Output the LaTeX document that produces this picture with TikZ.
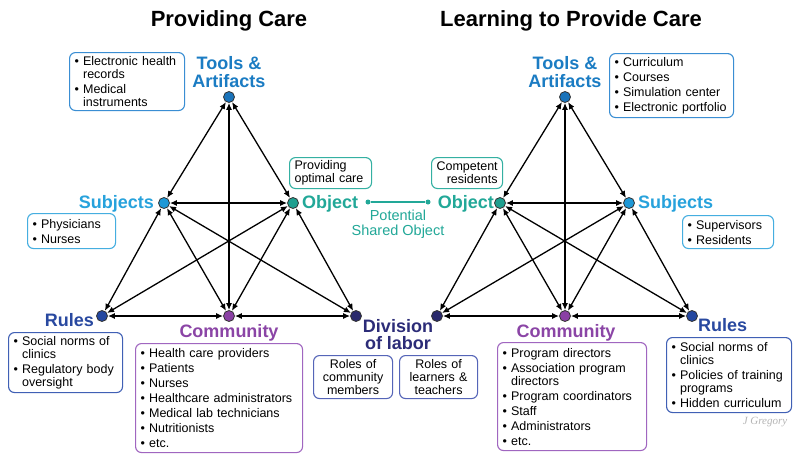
\documentclass[tikz,border=0pt]{standalone}
\usepackage{fontspec}
\setmainfont{Liberation Sans}
\newfontfamily\sigfont{Liberation Serif}
\usetikzlibrary{arrows.meta}
\definecolor{ctools}{HTML}{1B7CC3}
\definecolor{csubj}{HTML}{27A2DC}
\definecolor{cobj}{HTML}{22A898}
\definecolor{crules}{HTML}{2949A0}
\definecolor{ccomm}{HTML}{8B45A6}
\definecolor{cdiv}{HTML}{2C2C78}
\definecolor{dtools}{HTML}{1A73BA}
\definecolor{dsubj}{HTML}{1E98D6}
\definecolor{dobj}{HTML}{1E9F8F}
\definecolor{drules}{HTML}{2447A0}
\definecolor{dcomm}{HTML}{8A40A4}
\definecolor{ddiv}{HTML}{2A2A6C}
\definecolor{btools}{HTML}{3A8ED3}
\definecolor{bsubj}{HTML}{45AEE0}
\definecolor{bobj}{HTML}{34B0A2}
\definecolor{brules}{HTML}{4060B5}
\definecolor{bcomm}{HTML}{A066C0}
\definecolor{bdiv}{HTML}{5565B8}
\definecolor{sig}{HTML}{B5B5B5}
\newcommand{\itm}[1]{\mbox{•~#1}}
\newcommand{\cnt}[1]{\mbox{\hphantom{•~}#1}}
\begin{document}
\begin{tikzpicture}[x=1pt,y=-1pt,
  title/.style={font=\fontsize{22}{24}\selectfont\bfseries, inner sep=0pt},
  dot/.style={circle, draw=black!80, line width=0.8pt, inner sep=0pt, minimum size=11pt},
  lbl/.style={font=\fontsize{18}{18}\selectfont\bfseries, align=center, inner sep=0pt},
  box/.style={draw, rounded corners=6pt, line width=1.1pt, fill=white,
    font=\fontsize{12.5}{13}\selectfont, inner xsep=5pt, inner ysep=0pt,
    anchor=north west, align=left},
  rel/.style={{Latex[length=7pt,width=6pt]}-{Latex[length=7pt,width=6pt]}, line width=1.3pt, black},
]
\fill[white] (0,0) rectangle (800,463);
\useasboundingbox (0,0) rectangle (800,463);

% titles
\node[title, anchor=base] (t1) at (229,27) {Providing Care};
\node[title, anchor=base] (t2) at (571,27) {Learning to Provide Care};

% ---------- left diagram dots ----------
\node[dot, fill=dtools] (lT) at (229,97) {};
\node[dot, fill=dsubj]  (lS) at (164,203) {};
\node[dot, fill=dobj]   (lO) at (293,203) {};
\node[dot, fill=drules] (lR) at (102,316) {};
\node[dot, fill=dcomm]  (lC) at (229,316) {};
\node[dot, fill=ddiv]   (lD) at (356,316) {};

% ---------- right diagram dots ----------
\node[dot, fill=dtools] (rT) at (565,97) {};
\node[dot, fill=dobj]   (rO) at (500,203) {};
\node[dot, fill=dsubj]  (rS) at (629,203) {};
\node[dot, fill=ddiv]   (rD) at (437,316) {};
\node[dot, fill=dcomm]  (rC) at (565,316) {};
\node[dot, fill=drules] (rR) at (692,316) {};

% connectors
\foreach \a/\b in {lT/lS, lT/lO, lT/lC, lS/lO, lS/lR, lS/lC, lS/lD, lO/lR, lO/lC, lO/lD, lR/lC, lC/lD,
                   rT/rO, rT/rS, rT/rC, rO/rS, rO/rD, rO/rC, rO/rR, rS/rD, rS/rC, rS/rR, rD/rC, rC/rR}
  \draw[rel] (\a) -- (\b);

% ---------- left labels ----------
\node[lbl, text=ctools, anchor=south] (lTl) at (229,88) {Tools \&\\Artifacts};
\node[lbl, text=csubj, anchor=base east] (lSl) at (154,208) {Subjects};
\node[lbl, text=cobj, anchor=base west] (lOl) at (302,208) {Object};
\node[lbl, text=crules, anchor=base east] (lRl) at (94,326) {Rules};
\node[lbl, text=ccomm, anchor=base] (lCl) at (229,337) {Community};

% shared division of labor label
\node[lbl, text=cdiv, anchor=north, font=\fontsize{18}{17.5}\selectfont\bfseries] (dl) at (398,319) {Division\\of labor};

% ---------- right labels ----------
\node[lbl, text=ctools, anchor=south] (rTl) at (565,88) {Tools \&\\Artifacts};
\node[lbl, text=cobj, anchor=base east] (rOl) at (494,208) {Object};
\node[lbl, text=csubj, anchor=base west] (rSl) at (638,208) {Subjects};
\node[lbl, text=ccomm, anchor=base] (rCl) at (566,337) {Community};
\node[lbl, text=crules, anchor=base west] (rRl) at (698,331) {Rules};

% ---------- potential shared object ----------
\node[circle, fill=cobj, inner sep=0pt, minimum size=5pt] (pA) at (368,202) {};
\node[circle, fill=cobj, inner sep=0pt, minimum size=5pt] (pB) at (428,202) {};
\draw[cobj, line width=1.5pt] (pA) -- (pB);
\node[text=cobj, font=\fontsize{14.5}{15}\selectfont, align=center, inner sep=0pt, anchor=north] (pso) at (398,209.5) {Potential\\Shared Object};

% ---------- left boxes ----------
\node[box, draw=btools, text width=105pt, minimum height=58pt] (lTb) at (69,52)
  {\itm{Electronic health}\\ \cnt{records}\\[2pt] \itm{Medical}\\ \cnt{instruments}};
\node[box, draw=bsubj, text width=78pt, minimum height=35pt] (lSb) at (27,213)
  {\itm{Physicians}\\[2pt] \itm{Nurses}};
\node[box, draw=bobj, text width=72pt, minimum height=31pt] (lOb) at (289,157)
  {Providing\\ optimal care};
\node[box, draw=brules, text width=104pt, minimum height=60pt] (lRb) at (8,332)
  {\itm{Social norms of}\\ \cnt{clinics}\\[2pt] \itm{Regulatory body}\\ \cnt{oversight}};
\node[box, draw=bcomm, text width=157pt, minimum height=109pt] (lCb) at (135,343)
  {\itm{Health care providers}\\[2pt] \itm{Patients}\\[2pt] \itm{Nurses}\\[2pt] \itm{Healthcare administrators}\\[2pt]
   \itm{Medical lab technicians}\\[2pt] \itm{Nutritionists}\\[2pt] \itm{etc.}};
\node[box, draw=bdiv, text width=69pt, minimum height=43pt, align=center] (lDb) at (313,355)
  {Roles of\\ community\\ members};

% ---------- right boxes ----------
\node[box, draw=bdiv, text width=68pt, minimum height=43pt, align=center] (rDb) at (399,355)
  {Roles of\\ learners \&\\ teachers};
\node[box, draw=btools, text width=114pt, minimum height=64pt] (rTb) at (609,53)
  {\itm{Curriculum}\\[2pt] \itm{Courses}\\[2pt] \itm{Simulation center}\\[2pt] \itm{Electronic portfolio}};
\node[box, draw=bobj, text width=61pt, minimum height=31pt, align=right] (rOb) at (431,157)
  {Competent\\ residents};
\node[box, draw=bsubj, text width=81pt, minimum height=33pt] (rSb) at (682,215)
  {\itm{Supervisors}\\[2pt] \itm{Residents}};
\node[box, draw=bcomm, text width=139pt, minimum height=108pt] (rCb) at (497,342)
  {\itm{Program directors}\\[2pt] \itm{Association program}\\ \cnt{directors}\\[2pt] \itm{Program coordinators}\\[2pt]
   \itm{Staff}\\[2pt] \itm{Administrators}\\[2pt] \itm{etc.}};
\node[box, draw=brules, text width=115pt, minimum height=75pt] (rRb) at (666,337)
  {\itm{Social norms of}\\ \cnt{clinics}\\[2pt] \itm{Policies of training}\\ \cnt{programs}\\[2pt] \itm{Hidden curriculum}};

% signature
\node[text=sig, font=\sigfont\itshape\fontsize{11}{12}\selectfont, anchor=base, inner sep=0pt] (sg) at (765,424) {J Gregory};
\end{tikzpicture}
\end{document}
